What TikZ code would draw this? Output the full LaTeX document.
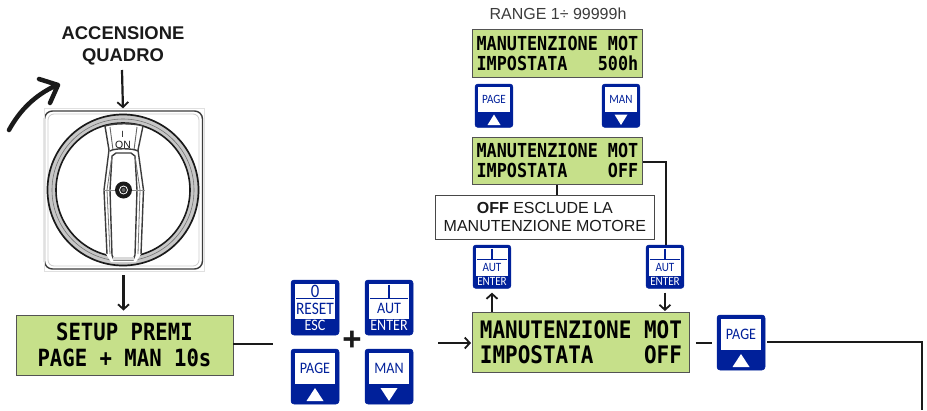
\documentclass[tikz,border=0pt]{standalone}
\usepackage{fontspec}
\setmainfont{Liberation Sans}
\newfontfamily\lcdfont[FakeStretch=0.87]{DejaVu Sans Mono Bold}
\newfontfamily\keyfont[FakeStretch=0.88]{Carlito}
\usetikzlibrary{arrows.meta}
\definecolor{lcdgreen}{HTML}{C6E08A}
\definecolor{keyblue}{HTML}{00209A}
\definecolor{ink}{HTML}{1A1A1A}
\tikzset{
  x=1pt,y=-1pt,
  lcd/.style={draw=ink!75,line width=0.9pt,fill=lcdgreen,inner sep=0pt,anchor=north west,align=center,text=black},
  conn/.style={draw=ink,line width=2.2pt},
  arr/.style={conn,-{Straight Barb[length=5pt,width=11pt,line width=1.8pt]}},
  keybox/.style={draw=keyblue,fill=keyblue,line width=0.5pt,rounded corners=3pt,minimum width=48pt,minimum height=55pt,inner sep=0pt},
  keytxt/.style={text=keyblue,inner sep=0pt,font=\fontsize{16}{16}\keyfont},
  keywht/.style={text=white,inner sep=0pt,font=\fontsize{16}{16}\keyfont},
  hnd/.style={draw=ink!85,line width=1.4pt},
  note/.style={draw=ink!80,line width=0.8pt,fill=white,inner sep=0pt,align=center,anchor=north west,text=ink}
}
\newcommand{\keyUpper}[7]{%
  \begin{scope}[shift={(#2,#3)},scale=#4,transform shape]
    \node[keybox] (#1) at (24,27.5) {};
    \fill[white] (4,4) rectangle (44,39);
    \draw[keyblue,line width=0.8pt] (5,18) -- (43,18);
    #5
    \node[keytxt,font=\fontsize{#7}{#7}\keyfont] (#1t) at (24,28.5) {#6};
  \end{scope}}
\newcommand{\keyTri}[5]{%
  \begin{scope}[shift={(#2,#3)},scale=#4,transform shape]
    \node[keybox] (#1) at (24,27.5) {};
    \fill[white] (4,4) rectangle (44,35);
    \node[keytxt] (#1t) at (24,19.5) {#5};
  \end{scope}}
\begin{document}
\begin{tikzpicture}
\useasboundingbox (0,0) rectangle (927,410);
\fill[white] (0,0) rectangle (927,410);

% title
\node[inner sep=0pt,align=center,text=ink,font=\fontsize{18.4}{22}\selectfont\bfseries] (title) at (123,46) {ACCENSIONE\\QUADRO};
\draw[line width=4.5pt,ink,line cap=round,line join=round] (9,130) .. controls (20,110) and (35,95) .. (57,85) (39,79) -- (58,85) -- (50,103);

% switch
\node[draw=ink!85,line width=1.4pt,rounded corners=8pt,minimum width=158pt,minimum height=158pt,inner sep=0pt] (sw) at (123.5,190) {};
\draw[black!20,line width=0.8pt,rounded corners=6pt] (48,114) rectangle (199,266);
\draw[black!12,line width=0.8pt] (44,108) rectangle (204,271);
\fill[black!22] (123,190) circle (75);
\fill[white] (123,190) circle (67);
\draw[ink,line width=1.7pt] (123,190) circle (75.5);
\draw[black!55,line width=0.6pt] (123,190) circle (71);
\draw[ink,line width=1.6pt] (123,190) circle (67);
% handle
\fill[white] (105,125) -- (143,125) -- (138,152) -- (145,190) -- (141,254) -- (136,262) -- (111,262) -- (106,254) -- (103,190) -- (110,152) -- cycle;
\draw[hnd] (105,126) -- (109,150) -- (104,190) -- (107,254);
\draw[hnd] (143,126) -- (138,150) -- (143.5,190) -- (141,254);
\draw[hnd] (105,126) .. controls (115,123) and (133,123) .. (143,126);
\draw[black!60,line width=0.9pt] (110,127) -- (113,150) (137,127) -- (134,150);
\draw[hnd] (110,151) .. controls (114,148) and (133,148) .. (138,151);
\draw[hnd] (116,153) -- (131,153) -- (135,156) -- (137,190) -- (135,255) -- (133,260) -- (114,260) -- (112,255) -- (110,190) -- (112,156) -- cycle;
\draw[black!55,line width=0.8pt] (112,156) -- (107,190) -- (110,254) (135,156) -- (140,190) -- (138,254);
\draw[black!45,line width=0.8pt] (103,190) -- (145,190);
\fill[black!15] (113,257) rectangle (134,260);
\node[inner sep=0pt,text=ink,font=\fontsize{9}{9}\selectfont] (swI) at (122.5,134) {I};
\node[inner sep=0pt,text=ink,font=\fontsize{10.5}{10.5}\selectfont] (swON) at (123,144.5) {ON};
\fill[ink] (123.5,190) circle (8.5);
\draw[white,line width=0.8pt] (123.5,190) circle (4);
\fill[black!60] (123.5,190) circle (2);

% LCDs
\node[lcd,minimum width=217pt,minimum height=60pt,font=\fontsize{23.7}{26}\lcdfont] (lcdA) at (15.5,314.5) {SETUP PREMI\\PAGE + MAN 10s};
\node[lcd,minimum width=170pt,minimum height=48pt,font=\fontsize{19.3}{20}\lcdfont] (lcdB) at (472,29) {MANUTENZIONE MOT\\IMPOSTATA~~~500h};
\node[lcd,minimum width=170pt,minimum height=47pt,font=\fontsize{19.3}{20}\lcdfont] (lcdC) at (472,137) {MANUTENZIONE MOT\\IMPOSTATA~~~~OFF};
\node[lcd,minimum width=217pt,minimum height=60pt,font=\fontsize{24.1}{25}\lcdfont] (lcdD) at (472,312) {MANUTENZIONE MOT\\IMPOSTATA~~~~OFF};

% range + note
\node[inner sep=0pt,text=ink!85,font=\fontsize{16}{18}\selectfont] (range) at (558,14) {RANGE 1÷ 99999h};
\node[note,minimum width=219pt,minimum height=44pt,font=\fontsize{16}{18}\selectfont] (note) at (435,195) {\textbf{OFF} ESCLUDE LA\\MANUTENZIONE MOTORE};

% keys
\keyUpper{kReset}{291}{280}{1}{\node[keytxt,font=\fontsize{19}{19}\keyfont] (kResetz) at (24,11) {0};}{RESET}{17.5}
\node[keywht] (kResetb) at (315,325.5) {ESC};
\keyUpper{kAut}{365}{280}{1}{\draw[keyblue,line width=1.2pt] (24,4.5) -- (24,18);}{AUT}{16}
\node[keywht] (kAutb) at (389,325.5) {ENTER};
\keyTri{kPage}{291}{349}{1}{PAGE}
\fill[white] (315,388) -- (306.5,401) -- (323.5,401) -- cycle;
\keyTri{kMan}{365}{349}{1}{MAN}
\fill[white] (389,401) -- (380.5,388) -- (397.5,388) -- cycle;
\node[inner sep=0pt,text=ink,font=\fontsize{33}{33}\selectfont\bfseries] (plus) at (352,340.5) {+};

\keyTri{kPageB}{475}{84}{0.79}{PAGE}
\fill[white] (494,114.5) -- (487.5,125) -- (500.5,125) -- cycle;
\keyTri{kManB}{602}{84}{0.79}{MAN}
\fill[white] (621,125) -- (614.5,114.5) -- (627.5,114.5) -- cycle;

\keyUpper{kAutL}{473}{245}{0.79}{\draw[keyblue,line width=1.2pt] (24,4.5) -- (24,18);}{AUT}{16}
\node[keywht,scale=0.79] (kAutLb) at (492,281.5) {ENTER};
\keyUpper{kAutR}{646}{245}{0.79}{\draw[keyblue,line width=1.2pt] (24,4.5) -- (24,18);}{AUT}{16}
\node[keywht,scale=0.79] (kAutRb) at (665,281.5) {ENTER};

\keyTri{kPageD}{717}{315}{1}{PAGE}
\fill[white] (741,354) -- (732.5,367) -- (749.5,367) -- cycle;

% free ends
\coordinate (gapA) at (273,344);
\coordinate (startD) at (438,343);
\coordinate (gapD) at (712,343);
\coordinate (outD) at (922,410);
\coordinate (noteTop) at (557,195);

% connectors
\draw[arr,shorten >=2pt] (122,70) -- (title.south |- sw.north);
\draw[conn] (123.5,275) -- (123.5,290);
\draw[arr,shorten >=4pt] (123.5,290) -- (lcdA.north -| 123.5,0);
\draw[conn] (lcdA.east |- gapA) -- (gapA);
\draw[arr,shorten >=1pt] (startD) -- (startD -| lcdD.west);
\draw[conn] ([xshift=6pt]lcdD.east |- gapD) -- (gapD);
\draw[conn] (lcdC.south -| noteTop) -- (noteTop);
\draw[conn] (lcdC.east |- 0,162) -| (kAutR.north -| 666,0);
\draw[arr] (lcdD.north -| kAutL.south) -- ([yshift=-4pt]kAutL.south);
\draw[arr] ([yshift=-4pt]kAutR.south) -- ([yshift=1pt]lcdD.north -| kAutR.south);
\draw[conn] ([xshift=2pt]kPageD.east |- 0,342) -| (outD);
\end{tikzpicture}
\end{document}
